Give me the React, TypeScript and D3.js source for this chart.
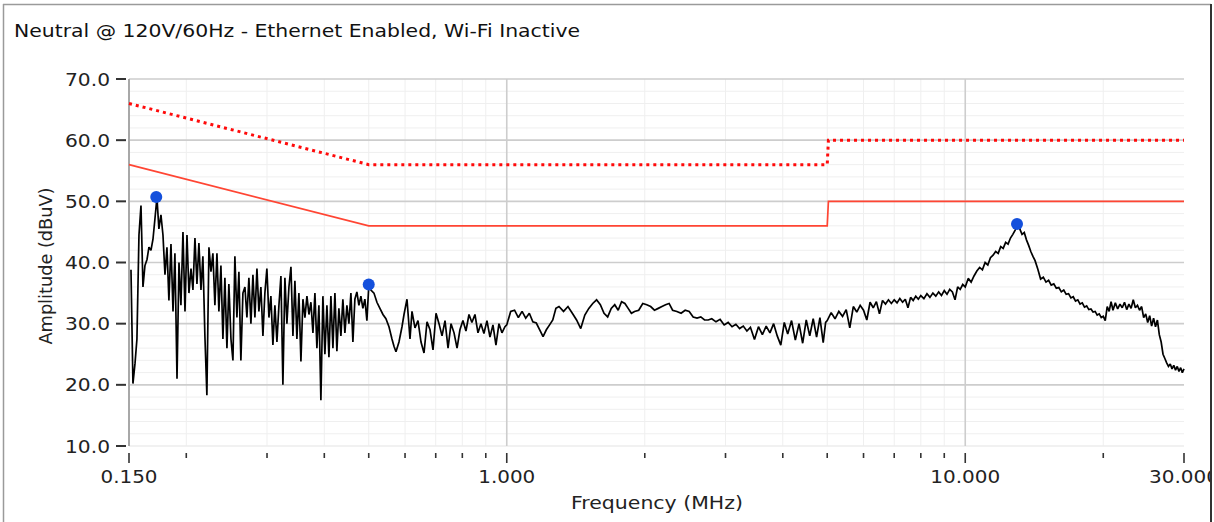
import { useEffect, useRef } from 'react';
import * as d3 from 'd3';

const title = 'Neutral @ 120V/60Hz - Ethernet Enabled, Wi-Fi Inactive';
const xLabel = 'Frequency (MHz)';
const yLabel = 'Amplitude (dBuV)';

const yTicks = [10, 20, 30, 40, 50, 60, 70];
const yMinorTicks = [12, 14, 16, 18, 22, 24, 26, 28, 32, 34, 36, 38, 42, 44, 46, 48, 52, 54, 56, 58, 62, 64, 66, 68];
const xMajorTicks = [0.15, 1, 10, 30];
const xTickLabels = ['0.150', '1.000', '10.000', '30.000'];
const xMinorTicks = [0.2, 0.3, 0.4, 0.5, 0.6, 0.7, 0.8, 0.9, 2, 3, 4, 5, 6, 7, 8, 9, 20];

// limites CISPR (quasi-crête pointillé, moyenne plein)
const qpLimitFreq = [0.15, 0.5, 5, 5.03, 30];
const qpLimitAmp = [66, 56, 56, 60, 60];
const avgLimitFreq = [0.15, 0.5, 5, 5.03, 30];
const avgLimitAmp = [56, 46, 46, 50, 50];

// pics marqués
const peakFreq = [0.172, 0.5, 12.97];
const peakAmp = [50.7, 36.4, 46.3];

// balayage mesuré [MHz, dBuV]
const spectrum: [number, number][] = [
  [0.1515, 38.8], [0.1530, 20.2], [0.1546, 23.5], [0.1561, 27.5], [0.1577, 44.5], [0.1593, 49.3], [0.1609, 36], [0.1625, 39.5],
  [0.1642, 40.5], [0.1658, 42.5], [0.1675, 42], [0.1692, 43.8], [0.1709, 47.2], [0.1726, 50.6], [0.1743, 45.5], [0.1761, 47.8],
  [0.1779, 44.5], [0.1797, 38], [0.1815, 42.5], [0.1833, 33.8], [0.1852, 43], [0.1871, 32], [0.1889, 41.5], [0.1909, 21],
  [0.1928, 40], [0.1947, 33], [0.1967, 45], [0.1987, 32], [0.2007, 44.5], [0.2027, 35], [0.2048, 39], [0.2068, 35.5],
  [0.2089, 44], [0.2110, 36.5], [0.2131, 43.2], [0.2153, 35.5], [0.2174, 41], [0.2196, 28], [0.2218, 18.3], [0.2241, 42.5],
  [0.2264, 38.5], [0.2286, 41.5], [0.2309, 33], [0.2333, 41.5], [0.2356, 32], [0.2380, 39.5], [0.2404, 27.5], [0.2428, 37.5],
  [0.2453, 26], [0.2477, 36.5], [0.2503, 27.5], [0.2528, 24], [0.2553, 41], [0.2579, 31], [0.2605, 38.5], [0.2631, 24],
  [0.2658, 35], [0.2685, 36], [0.2712, 31], [0.2739, 37.5], [0.2767, 30], [0.2795, 38], [0.2823, 31], [0.2852, 39],
  [0.2880, 32], [0.2909, 36], [0.2939, 28], [0.2968, 35], [0.2998, 39], [0.3029, 31], [0.3059, 34.5], [0.3090, 26.5],
  [0.3121, 33], [0.3153, 27], [0.3185, 33], [0.3217, 37.8], [0.3249, 20], [0.3282, 37.5], [0.3315, 30], [0.3349, 36],
  [0.3383, 39.3], [0.3417, 28], [0.3451, 37], [0.3486, 27.5], [0.3521, 35], [0.3557, 23.8], [0.3593, 34], [0.3629, 31],
  [0.3666, 34.5], [0.3703, 31.5], [0.3740, 33.5], [0.3778, 28.5], [0.3816, 35], [0.3854, 26], [0.3893, 33], [0.3932, 17.5],
  [0.3972, 34.5], [0.4012, 25], [0.4053, 33], [0.4094, 24.5], [0.4135, 34.5], [0.4177, 26], [0.4219, 35], [0.4261, 25.5],
  [0.4304, 32.5], [0.4348, 28], [0.4391, 34], [0.4436, 28.5], [0.4481, 33], [0.4526, 30], [0.4572, 35], [0.4618, 27],
  [0.4664, 34], [0.4711, 35.2], [0.4759, 33], [0.4807, 34.5], [0.4855, 32.5], [0.4904, 34], [0.4954, 30.5], [0.5004, 36.5],
  [0.5055, 35.5], [0.5133, 35], [0.5210, 33.5], [0.5289, 32.5], [0.5370, 31.5], [0.5451, 30.8], [0.5535, 29.5], [0.5619, 27.5],
  [0.5676, 26.3], [0.5733, 25.4], [0.5820, 27], [0.5909, 29.5], [0.5969, 31.5], [0.6059, 34], [0.6151, 27.5], [0.6213, 32],
  [0.6307, 29.3], [0.6403, 30.5], [0.6501, 27], [0.6600, 25.2], [0.6700, 30.3], [0.6802, 29], [0.6905, 25.7], [0.7010, 31.7],
  [0.7116, 30], [0.7225, 28], [0.7334, 30.5], [0.7446, 26], [0.7559, 30], [0.7674, 28.5], [0.7791, 26], [0.7905, 29],
  [0.8025, 30.5], [0.8147, 28.8], [0.8272, 31.5], [0.8395, 30.2], [0.8524, 31.5], [0.8654, 28.5], [0.8784, 30], [0.8917, 28.4],
  [0.9054, 30.5], [0.9192, 27.8], [0.9330, 29.8], [0.9472, 26.5], [0.9616, 30], [0.9762, 28.5], [0.9910, 29.5],
  [1.00, 29.8], [1.02, 32.0], [1.04, 32.2], [1.06, 31.0], [1.08, 32.0], [1.10, 30.9], [1.12, 31.7], [1.14, 30.3],
  [1.16, 30.1], [1.18, 29.0], [1.20, 27.9], [1.22, 29.0], [1.24, 29.8], [1.26, 30.6], [1.28, 32.5], [1.30, 32.8],
  [1.33, 32.0], [1.36, 32.8], [1.39, 31.7], [1.42, 30.6], [1.45, 29.2], [1.48, 31.4], [1.51, 32.5], [1.54, 33.3],
  [1.57, 33.9], [1.60, 33.1], [1.63, 31.7], [1.66, 31.1], [1.69, 32.5], [1.72, 33.1], [1.75, 32.2], [1.78, 33.6],
  [1.81, 33.3], [1.84, 32.5], [1.87, 31.7], [1.90, 32.0], [1.94, 32.2], [1.98, 33.3], [2.02, 33.1], [2.06, 32.8],
  [2.10, 32.2], [2.14, 32.5], [2.18, 32.8], [2.22, 33.1], [2.26, 33.3], [2.30, 32.2], [2.35, 32.0], [2.40, 31.7],
  [2.45, 32.2], [2.50, 32.0], [2.55, 31.1], [2.60, 30.9], [2.65, 31.1], [2.70, 30.6], [2.75, 30.6], [2.80, 30.8],
  [2.86, 30.3], [2.92, 30.7], [2.98, 29.8], [3.04, 30.2], [3.10, 29.5], [3.16, 29.9], [3.22, 29.2], [3.28, 29.6],
  [3.34, 28.8], [3.40, 29.4], [3.47, 27.4], [3.54, 29.5], [3.61, 28.2], [3.68, 29.6], [3.75, 28.5], [3.82, 30.0],
  [3.89, 28.0], [3.96, 26.5], [4.03, 30.2], [4.10, 28.3], [4.18, 30.5], [4.26, 27.3], [4.34, 30.0], [4.42, 26.8],
  [4.50, 30.6], [4.58, 28.0], [4.66, 30.8], [4.74, 27.8], [4.82, 31.0], [4.90, 26.9], [4.96, 30.2],
  [5.0, 30.5], [5.1, 31.8], [5.2, 30.8], [5.3, 32.0], [5.4, 31.2], [5.5, 32.3], [5.6, 29.3], [5.7, 32.8],
  [5.8, 31.9], [5.9, 33.0], [6.0, 32.2], [6.1, 30.6], [6.2, 33.5], [6.3, 32.6], [6.4, 33.6], [6.5, 31.6],
  [6.6, 33.8], [6.7, 33.2], [6.8, 33.9], [6.9, 33.3], [7.0, 33.9], [7.1, 33.4], [7.2, 34.1], [7.3, 33.5],
  [7.4, 34.0], [7.5, 32.6], [7.6, 34.3], [7.7, 33.8], [7.8, 34.5], [7.9, 34.0], [8.0, 34.6], [8.125, 34.1],
  [8.25, 34.9], [8.375, 34.3], [8.5, 35.0], [8.625, 34.5], [8.75, 35.2], [8.875, 34.6], [9.0, 35.4], [9.125, 34.8],
  [9.25, 35.6], [9.375, 35.2], [9.5, 33.9], [9.625, 36.0], [9.75, 35.6], [9.875, 36.4], [10.0, 36.0], [10.15, 37.4],
  [10.3, 36.8], [10.45, 37.8], [10.6, 38.6], [10.75, 39.2], [10.9, 38.8], [11.05, 40.0], [11.2, 39.6], [11.35, 40.8],
  [11.5, 41.2], [11.65, 41.8], [11.8, 41.5], [11.95, 42.6], [12.1, 42.3], [12.25, 43.3], [12.4, 43.0], [12.55, 44.0],
  [12.7, 44.6], [12.85, 45.3], [13.0, 46.3], [13.15, 45.5], [13.3, 44.6], [13.45, 44.9], [13.6, 43.7], [13.75, 42.8],
  [13.9, 41.8], [14.05, 41.0], [14.2, 40.3], [14.4, 38.9], [14.6, 37.3], [14.8, 37.6], [15.0, 36.8], [15.2, 37.1],
  [15.4, 36.3], [15.6, 36.5], [15.8, 35.8], [16.0, 35.9], [16.2, 35.2], [16.4, 35.5], [16.6, 34.8], [16.8, 34.9],
  [17.0, 34.2], [17.2, 34.4], [17.4, 33.7], [17.6, 33.9], [17.8, 33.2], [18.0, 33.4], [18.2, 32.7], [18.4, 32.9],
  [18.6, 32.3], [18.8, 32.4], [19.0, 31.9], [19.2, 32.0], [19.4, 31.4], [19.6, 31.6], [19.8, 31.0], [20.0, 31.2],
  [20.2, 30.5], [20.4, 32.8], [20.6, 32.0], [20.8, 33.6], [21.0, 32.2], [21.25, 33.4], [21.5, 32.4], [21.75, 33.2],
  [22.0, 32.6], [22.25, 33.5], [22.5, 32.3], [22.75, 33.2], [23.0, 32.5], [23.25, 33.9], [23.5, 32.6], [23.75, 33.0],
  [24.0, 32.2], [24.25, 32.8], [24.5, 31.0], [24.75, 31.6], [25.0, 30.2], [25.25, 31.3], [25.5, 29.6], [25.75, 30.9],
  [26.0, 29.5], [26.25, 30.6], [26.5, 28.2], [26.75, 27.0], [27.0, 25.0], [27.25, 24.3], [27.5, 23.6], [27.75, 23.0],
  [28.0, 23.4], [28.25, 22.6], [28.5, 23.2], [28.75, 22.4], [29.0, 23.0], [29.25, 22.2], [29.5, 22.8], [29.75, 22.0],
  [30.0, 22.6],
];

const W = 1214;
const H = 522;
const FONT = '"DejaVu Sans", Verdana, sans-serif';

export default function App() {
  const svgRef = useRef<SVGSVGElement>(null);

  useEffect(() => {
    if (!svgRef.current) return;
    const svg = d3.select(svgRef.current);
    svg.selectAll('*').remove();

    const left = 129, right = 1184, top = 79, bottom = 446;
    const x = d3.scaleLog().domain([0.15, 30]).range([left, right]);
    const y = d3.scaleLinear().domain([10, 70]).range([bottom, top]);

    svg.append('rect').attr('width', W).attr('height', H).attr('fill', '#fff');

    const clip = svg.append('defs').append('clipPath').attr('id', 'frame-clip');
    clip.append('rect').attr('x', 4).attr('y', 5).attr('width', 1206).attr('height', 520);
    const g = svg.append('g').attr('clip-path', 'url(#frame-clip)');

    // grille secondaire
    g.append('g').selectAll('line').data(yMinorTicks).enter().append('line')
      .attr('x1', left).attr('x2', right)
      .attr('y1', d => y(d)).attr('y2', d => y(d))
      .attr('stroke', '#efefef').attr('stroke-width', 1);
    g.append('g').selectAll('line').data(xMinorTicks).enter().append('line')
      .attr('x1', d => x(d)).attr('x2', d => x(d))
      .attr('y1', top).attr('y2', bottom)
      .attr('stroke', '#efefef').attr('stroke-width', 1);

    // grille principale
    g.append('g').selectAll('line').data(yTicks).enter().append('line')
      .attr('x1', left).attr('x2', right)
      .attr('y1', d => y(d)).attr('y2', d => y(d))
      .attr('stroke', d => (d === 10 ? '#ececec' : '#cdcdcd')).attr('stroke-width', 1.6);
    g.append('g').selectAll('line').data([1, 10]).enter().append('line')
      .attr('x1', d => x(d)).attr('x2', d => x(d))
      .attr('y1', top).attr('y2', bottom)
      .attr('stroke', '#cdcdcd').attr('stroke-width', 1.6);

    // axe gauche
    g.append('line')
      .attr('x1', left).attr('x2', left).attr('y1', top).attr('y2', bottom)
      .attr('stroke', '#a8a8a8').attr('stroke-width', 2);

    // limites
    const limitLine = (fs: number[], as: number[]) =>
      d3.line<number>().x((_, i) => x(fs[i])).y(d => y(d))(as);
    g.append('path').attr('d', limitLine(avgLimitFreq, avgLimitAmp) || '')
      .attr('fill', 'none').attr('stroke', '#ff4533').attr('stroke-width', 1.7);
    g.append('path').attr('d', limitLine(qpLimitFreq, qpLimitAmp) || '')
      .attr('fill', 'none').attr('stroke', '#ff0a0a').attr('stroke-width', 3)
      .attr('stroke-dasharray', '3 4');

    // trace
    const traceLine = d3.line<[number, number]>().x(d => x(d[0])).y(d => y(d[1]));
    g.append('path').attr('d', traceLine(spectrum) || '')
      .attr('fill', 'none').attr('stroke', '#000').attr('stroke-width', 1.7)
      .attr('stroke-linejoin', 'miter').attr('stroke-miterlimit', 2);

    // marqueurs
    g.append('g').selectAll('circle').data(peakFreq).enter().append('circle')
      .attr('cx', d => x(d)).attr('cy', (_, i) => y(peakAmp[i]))
      .attr('r', 6).attr('fill', '#1450dc');

    // graduations Y
    g.append('g').selectAll('line').data(yTicks).enter().append('line')
      .attr('x1', 116).attr('x2', 126)
      .attr('y1', d => y(d)).attr('y2', d => y(d))
      .attr('stroke', '#333').attr('stroke-width', 2);
    g.append('g').selectAll('text').data(yTicks).enter().append('text')
      .attr('x', 110).attr('y', d => y(d) + 6.5)
      .attr('text-anchor', 'end')
      .attr('textLength', 45).attr('lengthAdjust', 'spacingAndGlyphs')
      .style('font-family', FONT).style('font-size', '18px').style('fill', '#222')
      .text(d => d.toFixed(1));

    // graduations X
    g.append('g').selectAll('line').data(xMinorTicks).enter().append('line')
      .attr('x1', d => x(d)).attr('x2', d => x(d))
      .attr('y1', 453).attr('y2', 458)
      .attr('stroke', '#333').attr('stroke-width', 1.6);
    g.append('g').selectAll('line').data(xMajorTicks).enter().append('line')
      .attr('x1', d => x(d)).attr('x2', d => x(d))
      .attr('y1', 453).attr('y2', 463)
      .attr('stroke', '#333').attr('stroke-width', 1.6);
    g.append('g').selectAll('text').data(xMajorTicks).enter().append('text')
      .attr('x', d => x(d)).attr('y', 483)
      .attr('text-anchor', 'middle')
      .attr('textLength', (_, i) => (xTickLabels[i].length > 5 ? 70 : 57))
      .attr('lengthAdjust', 'spacingAndGlyphs')
      .style('font-family', FONT).style('font-size', '18px').style('fill', '#222')
      .text((_, i) => xTickLabels[i]);

    // titres
    g.append('text').attr('x', 14).attr('y', 37)
      .attr('textLength', 566).attr('lengthAdjust', 'spacingAndGlyphs')
      .style('font-family', FONT).style('font-size', '18.5px').style('fill', '#111')
      .text(title);
    g.append('text').attr('x', 657).attr('y', 509)
      .attr('text-anchor', 'middle')
      .attr('textLength', 172).attr('lengthAdjust', 'spacingAndGlyphs')
      .style('font-family', FONT).style('font-size', '18px').style('fill', '#222')
      .text(xLabel);
    g.append('text').attr('transform', 'translate(52,266) rotate(-90)')
      .attr('text-anchor', 'middle')
      .attr('textLength', 157).attr('lengthAdjust', 'spacingAndGlyphs')
      .style('font-family', FONT).style('font-size', '18px').style('fill', '#222')
      .text(yLabel);

    // cadre
    svg.append('line').attr('x1', 3.5).attr('x2', 3.5).attr('y1', 4).attr('y2', H)
      .attr('stroke', '#9a9a9a').attr('stroke-width', 1.5);
    svg.append('line').attr('x1', 3).attr('x2', 1211).attr('y1', 4.5).attr('y2', 4.5)
      .attr('stroke', '#9a9a9a').attr('stroke-width', 1.5);
    svg.append('line').attr('x1', 1211).attr('x2', 1211).attr('y1', 4).attr('y2', H)
      .attr('stroke', '#333').attr('stroke-width', 2);
  }, []);

  return (
    <svg ref={svgRef} width={W} height={H}
      style={{ position: 'absolute', left: 0, top: 0, display: 'block' }} />
  );
}
